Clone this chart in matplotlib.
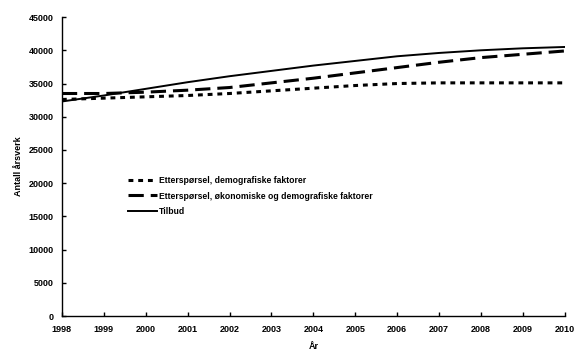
import matplotlib
matplotlib.use("Agg")
import matplotlib.pyplot as plt

plt.rcParams['font.family'] = ['Liberation Sans', 'DejaVu Sans']
plt.rcParams['lines.scale_dashes'] = False

years = list(range(1998, 2011))
tick_labels = [str(y) for y in years]

# Etterspørsel, demografiske faktorer
demand_demo = [32600, 32800, 33000, 33200, 33500, 33900, 34300, 34700, 35000, 35100, 35100, 35100, 35100]
# Etterspørsel, økonomiske og demografiske faktorer
demand_econ = [33500, 33500, 33700, 34000, 34400, 35100, 35800, 36600, 37400, 38200, 38900, 39400, 39900]
# Tilbud
supply = [32300, 33200, 34200, 35200, 36100, 36900, 37700, 38400, 39100, 39600, 40000, 40300, 40500]

labels = ["Etterspørsel, demografiske faktorer",
          "Etterspørsel, økonomiske og demografiske faktorer",
          "Tilbud"]

fig = plt.figure(figsize=(5.84, 3.63), dpi=100)
ax = fig.add_axes([0.106, 0.129, 0.861, 0.824])

ax.plot(years, demand_demo, color="black", lw=2.2, ls=(0, (3.5, 3.5)), label=labels[0])
ax.plot(years, demand_econ, color="black", lw=2.2, ls=(0, (11, 5)), label=labels[1])
ax.plot(years, supply, color="black", lw=1.4, ls="-", label=labels[2])

ax.set_xlim(1998, 2010)
ax.set_ylim(0, 45000)
ax.set_xticks(years)
ax.set_xticklabels(tick_labels)
ax.set_yticks(range(0, 45001, 5000))

for s in ["top", "right"]:
    ax.spines[s].set_visible(False)
for s in ["left", "bottom"]:
    ax.spines[s].set_linewidth(1.0)

ax.tick_params(direction="in", length=3, width=1, labelsize=6.5, pad=6)
for lab in ax.get_xticklabels() + ax.get_yticklabels():
    lab.set_fontweight("bold")

ax.set_xlabel("År", fontsize=6.5, fontweight="bold", labelpad=6)
ax.set_ylabel("Antall årsverk", fontsize=6.5, fontweight="bold", labelpad=4)

leg = ax.legend(loc="upper left", bbox_to_anchor=(0.125, 0.48), frameon=False,
                prop={"size": 6.2, "weight": "bold"}, handlelength=3.4,
                handletextpad=0.2, labelspacing=0.75, borderaxespad=0)

fig.savefig("out.png", dpi=100)
